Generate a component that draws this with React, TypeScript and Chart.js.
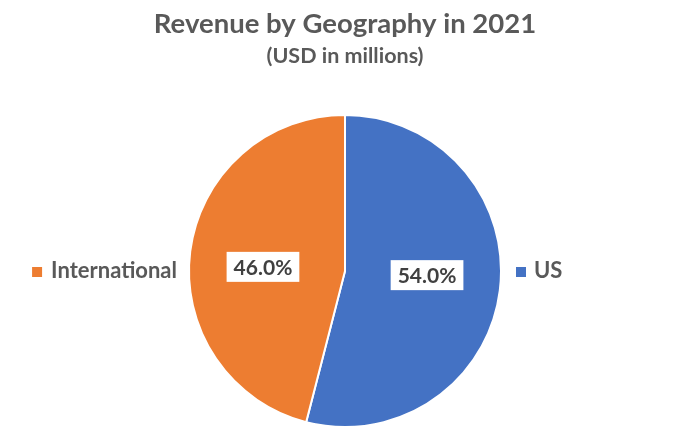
import React, { useEffect, useRef } from "react";
import { Chart, registerables } from "chart.js";

Chart.register(...registerables);

const categories = ["US", "International"];
const shares = [54.0, 46.0];
const colors = ["#4472C4", "#ED7D31"];
const titleText = "Revenue by Geography in 2021";
const subtitleText = "(USD in millions)";

const FONT = "Lato, 'Open Sans', sans-serif";

const overlayPlugin = {
  id: "overlay",
  afterDraw(chart: any) {
    const ctx = chart.ctx as CanvasRenderingContext2D;
    const meta = chart.getDatasetMeta(0);
    const arcs = meta.data as any[];
    if (!arcs.length) return;
    const cx = arcs[0].x;
    const cy = arcs[0].y;
    const r = arcs[0].outerRadius;

    ctx.save();
    // Title
    ctx.fillStyle = "#595959";
    ctx.textAlign = "center";
    ctx.textBaseline = "alphabetic";
    ctx.font = `bold 27.5px ${FONT}`;
    ctx.fillText(titleText, cx, 33);
    ctx.font = `bold 21.5px ${FONT}`;
    ctx.fillText(subtitleText, cx, 63);

    // Data labels
    arcs.forEach((arc, i) => {
      const mid = (arc.startAngle + arc.endAngle) / 2;
      const px = cx + Math.cos(mid) * r * 0.53;
      const py = cy + Math.sin(mid) * r * 0.53 * 0.4;
      const text = shares[i].toFixed(1) + "%";
      ctx.font = `bold 21px ${FONT}`;
      const w = ctx.measureText(text).width + 14;
      const h = 30;
      ctx.fillStyle = "#ffffff";
      ctx.fillRect(px - w / 2, py - h / 2, w, h);
      ctx.fillStyle = "#404040";
      ctx.textAlign = "center";
      ctx.textBaseline = "middle";
      ctx.fillText(text, px, py + 1);
    });

    // Legend beside the pie
    ctx.textBaseline = "alphabetic";
    ctx.font = `bold 22px ${FONT}`;
    arcs.forEach((arc, i) => {
      const mid = (arc.startAngle + arc.endAngle) / 2;
      const label = categories[i];
      const tw = ctx.measureText(label).width;
      const leftSide = Math.cos(mid) < 0;
      let sqX: number;
      let txX: number;
      if (leftSide) {
        txX = cx - r - 12 - tw;
        sqX = txX - 19;
      } else {
        sqX = cx + r + 15;
        txX = sqX + 18;
      }
      ctx.fillStyle = colors[i];
      ctx.fillRect(sqX, cy - 4, 10, 10);
      ctx.fillStyle = "#595959";
      ctx.textAlign = "left";
      ctx.fillText(label, txX, cy + 7);
    });
    ctx.restore();
  },
};

export default function App() {
  const canvasRef = useRef<HTMLCanvasElement | null>(null);

  useEffect(() => {
    document.body.style.margin = "0";
    const canvas = canvasRef.current;
    if (!canvas) return;
    const chart = new Chart(canvas, {
      type: "pie",
      data: {
        labels: categories,
        datasets: [
          {
            data: shares,
            backgroundColor: colors,
            borderColor: "#ffffff",
            borderWidth: 2,
          },
        ],
      },
      options: {
        responsive: false,
        maintainAspectRatio: false,
        animation: false,
        layout: { padding: { top: 114, bottom: 14, left: 188, right: 180 } },
        plugins: {
          legend: { display: false },
          tooltip: { enabled: false },
          title: { display: false },
        },
      },
      plugins: [overlayPlugin],
    });
    return () => chart.destroy();
  }, []);

  return (
    <div style={{ width: 682, height: 442, background: "#ffffff" }}>
      <canvas ref={canvasRef} width={682} height={442} />
    </div>
  );
}
